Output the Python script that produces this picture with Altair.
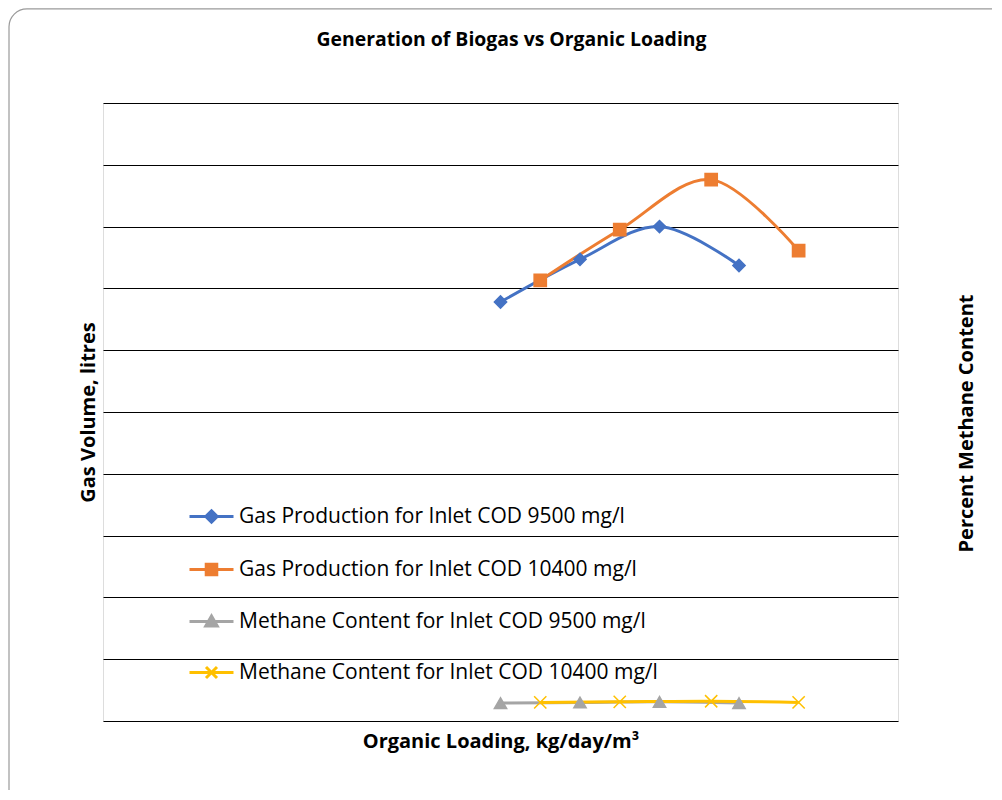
import altair as alt
import pandas as pd

# ---- data ----
series_names = [
    "Gas Production for Inlet COD 9500 mg/l",
    "Gas Production for Inlet COD 10400 mg/l",
    "Methane Content for Inlet COD 9500 mg/l",
    "Methane Content for Inlet COD 10400 mg/l",
]
colors = ["#4472C4", "#ED7D31", "#A5A5A5", "#FFC000"]

load_9500 = [1.0, 1.2, 1.4, 1.6]
load_10400 = [1.1, 1.3, 1.53, 1.75]
gas_9500 = [6.78, 7.47, 8.0, 7.37]
gas_10400 = [7.13, 7.95, 8.76, 7.61]
methane_9500 = [0.29, 0.30, 0.31, 0.29]
methane_10400 = [0.30, 0.31, 0.32, 0.30]

y_ticks = list(range(0, 11))

rows = []
for name, xs, ys, kind in [
    (series_names[0], load_9500, gas_9500, "gas"),
    (series_names[1], load_10400, gas_10400, "gas"),
    (series_names[2], load_9500, methane_9500, "methane"),
    (series_names[3], load_10400, methane_10400, "methane"),
]:
    for i, (xv, yv) in enumerate(zip(xs, ys)):
        rows.append({"series": name, "load": xv, "value": yv, "kind": kind, "order": i})
df = pd.DataFrame(rows)
gas_df = df[df.kind == "gas"]
met_df = df[df.kind == "methane"]

FONT = "Open Sans"
TFS = 20
W, H = 795, 618

color_scale = alt.Scale(domain=series_names, range=colors)
marker_shapes = ["diamond", "square", "triangle-up", "M-1,-1L1,1M-1,1L1,-1"]
marker_scale = alt.Scale(domain=series_names, range=marker_shapes)
legend_shapes = [
    "M-1,0H1M0,-0.26L0.26,0L0,0.26L-0.26,0Z",
    "M-1,0H1M-0.24,-0.24H0.24V0.24H-0.24Z",
    "M-1,0H1M0,-0.25L0.26,0.2H-0.26Z",
    "M-1,0H1M-0.25,-0.25L0.25,0.25M-0.25,0.25L0.25,-0.25",
]
legend_shape_scale = alt.Scale(domain=series_names, range=legend_shapes)

x_enc = alt.X(
    "load:Q",
    scale=alt.Scale(domain=[0, 2]),
    axis=alt.Axis(
        title="Organic Loading, kg/day/m³", labels=False, ticks=False, domain=False,
        grid=False, titleFont=FONT, titleFontSize=TFS, titleFontWeight="bold",
        titleColor="#000000", titlePadding=10,
    ),
)

y_left = alt.Y(
    "value:Q",
    scale=alt.Scale(domain=[0, 10], nice=False, zero=True),
    axis=alt.Axis(
        title="Gas Volume, litres", values=y_ticks, labels=False, ticks=False,
        domain=False, grid=True, gridColor="#000000", gridWidth=1.2,
        titleFont=FONT, titleFontSize=TFS, titleFontWeight="bold",
        titleColor="#000000", titlePadding=5,
    ),
)
y_right = alt.Y(
    "value:Q",
    scale=alt.Scale(domain=[0, 10], nice=False, zero=True),
    axis=alt.Axis(
        orient="right", title="Percent Methane Content", labels=False, ticks=False,
        domain=False, grid=False, titleFont=FONT, titleFontSize=TFS,
        titleFontWeight="bold", titleColor="#000000", titleAngle=270,
        titlePadding=78, titleY=320,
    ),
)


def series_layer(data, yenc):
    line = alt.Chart(data).mark_line(interpolate="cardinal", strokeWidth=3).encode(
        x=x_enc, y=yenc,
        stroke=alt.Stroke("series:N", scale=color_scale, legend=None),
        order="order:O",
    )
    pts = alt.Chart(data).mark_point(filled=True, size=150, opacity=1, strokeWidth=1.5).encode(
        x=x_enc, y=yenc,
        fill=alt.Fill("series:N", scale=color_scale, legend=None),
        stroke=alt.Stroke("series:N", scale=color_scale, legend=None),
        shape=alt.Shape("series:N", scale=marker_scale, legend=None),
    )
    return alt.layer(line, pts)


gas_layer = series_layer(gas_df, y_left)
met_layer = series_layer(met_df, y_right)

leg = alt.Legend(
    title=None, orient="none", legendX=85, legendY=390, direction="vertical",
    symbolSize=1936, symbolStrokeWidth=3, symbolOpacity=1, labelFont=FONT,
    labelFontSize=21, labelColor="#000000", labelOffset=4, rowPadding=17,
    padding=0, labelLimit=700,
)
legend_layer = alt.Chart(df).mark_point(filled=True, opacity=0).encode(
    x=x_enc,
    y=alt.Y("value:Q", scale=alt.Scale(domain=[0, 10]), axis=None),
    fill=alt.Fill("series:N", scale=color_scale, legend=leg),
    stroke=alt.Stroke("series:N", scale=color_scale, legend=leg),
    shape=alt.Shape("series:N", scale=legend_shape_scale, legend=leg),
)

frame = alt.Chart(alt.Data(values=[{"f": 1}])).mark_rect(
    fill="transparent", stroke="#9a9a9a", strokeWidth=1.2, cornerRadius=18
).encode(
    x=alt.value(-94), x2=alt.value(W + 112),
    y=alt.value(-94.2), y2=alt.value(H + 90),
)

chart = alt.layer(frame, gas_layer, met_layer, legend_layer).resolve_scale(
    y="independent", shape="independent", fill="independent", stroke="independent"
).properties(
    width=W, height=H,
    padding={"left": 95, "top": 95, "right": 94, "bottom": 69},
    autosize=alt.AutoSizeParams(type="none"),
    title=alt.TitleParams(
        "Generation of Biogas vs Organic Loading", font=FONT, fontSize=19.4,
        fontWeight="bold", color="#000000", anchor="middle", offset=-42.5, dx=11,
        frame="group",
    ),
).configure_view(stroke=None).configure(background="white")

chart.save("out.html", embed_options={"renderer": "svg", "actions": False})
